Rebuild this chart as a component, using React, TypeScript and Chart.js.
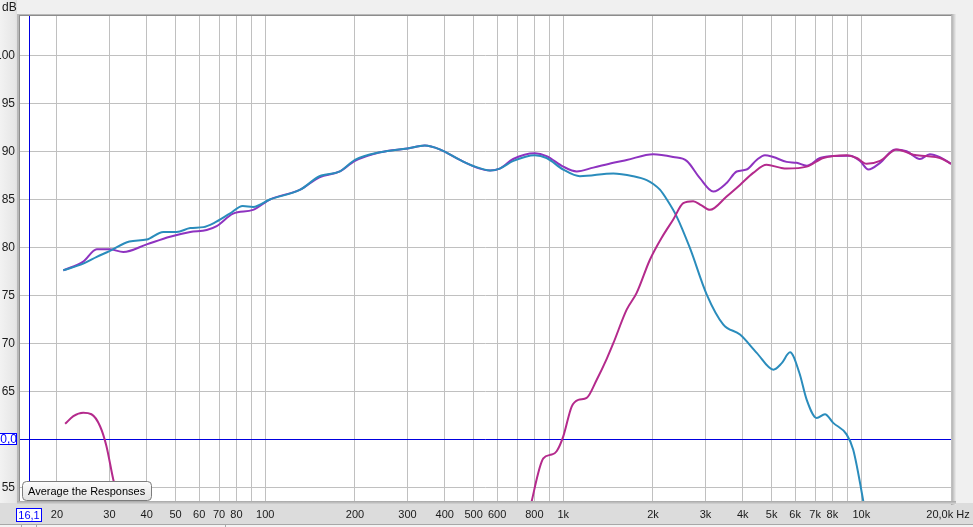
import React, { useEffect, useRef } from "react";
import { Chart, registerables } from "chart.js";

Chart.register(...registerables);

// ---- data ----
const purpleFreq = [21, 24.5, 27.2, 30, 33.4, 40, 47.9, 56, 63.6, 68.7, 78, 91, 104, 131, 152, 178, 200, 243, 300, 343, 385, 450, 525, 568, 612, 679, 803, 879, 1000, 1109, 1261, 1472, 1632, 2005, 2339, 2594, 2874, 3186, 3533, 3818, 4121, 4454, 4748, 5066, 5617, 6069, 6560, 7267, 8050, 9164, 9901, 10562, 11560, 12978, 14194, 15724, 16983, 18357, 20000];
const purpleDb = [77.6, 78.5, 79.8, 79.8, 79.5, 80.3, 81.1, 81.6, 81.8, 82.2, 83.5, 83.9, 85.0, 86.0, 87.3, 87.9, 89.0, 89.9, 90.3, 90.6, 90.2, 89.1, 88.2, 88.0, 88.2, 89.2, 89.8, 89.5, 88.4, 87.9, 88.3, 88.8, 89.1, 89.7, 89.4, 89.0, 87.2, 85.8, 86.7, 87.9, 88.1, 89.1, 89.6, 89.4, 88.9, 88.8, 88.5, 89.3, 89.5, 89.55, 89.0, 88.1, 88.8, 90.2, 90.0, 89.2, 89.7, 89.4, 88.7];

const blueFreq = [21, 24.5, 27.2, 30, 35, 40, 45.5, 50.4, 56, 62, 67, 76, 84, 91, 104, 131, 152, 178, 200, 243, 300, 343, 385, 450, 506, 568, 612, 680, 803, 879, 1000, 1137, 1472, 1718, 1905, 2005, 2110, 2223, 2402, 2662, 3027, 3444, 3918, 4458, 5072, 5400, 5767, 6199, 6560, 7085, 7553, 8050, 8925, 9396, 10160, 10600];
const blueDb = [77.6, 78.3, 79.0, 79.6, 80.6, 80.8, 81.6, 81.6, 82.0, 82.1, 82.5, 83.5, 84.3, 84.2, 85.0, 86.0, 87.4, 87.9, 89.1, 89.9, 90.3, 90.6, 90.2, 89.1, 88.4, 88.0, 88.2, 89.0, 89.6, 89.3, 88.1, 87.4, 87.7, 87.4, 87.0, 86.6, 86.0, 85.0, 83.2, 79.9, 75.1, 71.95, 70.9, 69.0, 67.25, 67.9, 69.05, 66.9, 64.1, 62.2, 62.6, 61.7, 60.5, 58.9, 53.5, 50];

const magentaLowFreq = [21.3, 22.7, 24.5, 26.1, 27.9, 29.3, 30.9, 31.8, 33];
const magentaLowDb = [61.6, 62.4, 62.75, 62.6, 61.35, 59.3, 55.8, 54.3, 52];
const magentaHighFreq = [760, 783, 857, 914, 950, 1000, 1067, 1123, 1198, 1295, 1400, 1472, 1632, 1763, 1953, 2139, 2339, 2527, 2728, 2900, 3105, 3533, 3916, 4339, 4811, 5333, 5617, 6560, 7453, 8925, 9654, 10425, 11560, 13150, 14936, 16556, 18357, 20000];
const magentaHighDb = [51.5, 53.5, 58.0, 58.4, 58.75, 60.3, 63.4, 64.1, 64.3, 66.2, 68.4, 70.0, 73.5, 75.25, 78.7, 81.0, 82.9, 84.6, 84.8, 84.4, 83.9, 85.3, 86.5, 87.75, 88.6, 88.3, 88.2, 88.4, 89.3, 89.6, 89.3, 88.7, 89.0, 90.2, 89.65, 89.5, 89.3, 88.7];

const xGridValues = [20, 30, 40, 50, 60, 70, 80, 90, 100, 200, 300, 400, 500, 600, 700, 800, 900, 1000, 2000, 3000, 4000, 5000, 6000, 7000, 8000, 9000, 10000, 20000];
const xLabelValues = [20, 30, 40, 50, 60, 70, 80, 100, 200, 300, 400, 500, 600, 800, 1000, 2000, 3000, 4000, 5000, 6000, 7000, 8000, 10000, 20000];
const xLabelTexts = ["20", "30", "40", "50", "60", "70", "80", "100", "200", "300", "400", "500", "600", "800", "1k", "2k", "3k", "4k", "5k", "6k", "7k", "8k", "10k", "20,0k Hz"];
const yTickValues = [55, 60, 65, 70, 75, 80, 85, 90, 95, 100];
const yTickLabels = ["55", "60", "65", "70", "75", "80", "85", "90", "95", "100"];

const cursorFreq = 16.1;
const cursorDb = 60;
const cursorFreqLabel = "16,1";
const cursorDbLabel = "60,0";
const buttonText = "Average the Responses";

const X_MIN = 15.03;
const X_MAX = 20000;
const Y_MIN = 53.56;
const Y_MAX = 104.1;

const FONT_Y = '12px "Liberation Sans", Arial, sans-serif';
const FONT_SM = '11px "Liberation Sans", Arial, sans-serif';

function pts(f: number[], d: number[]) {
  return f.map((x, i) => ({ x, y: d[i] }));
}

const decorPlugin = {
  id: "decor",
  beforeDraw(chart: any) {
    const { ctx, width, height, chartArea: a } = chart;
    ctx.save();
    ctx.fillStyle = "#f0f0f0";
    ctx.fillRect(0, 0, width, height);
    const lg = ctx.createLinearGradient(0, 0, a.left, 0);
    lg.addColorStop(0, "#f2f2f2");
    lg.addColorStop(0.75, "#e6e6e6");
    lg.addColorStop(1, "#d4d4d4");
    ctx.fillStyle = lg;
    ctx.fillRect(0, 0, a.left - 3, height);
    ctx.fillStyle = "#dcdcdc";
    ctx.fillRect(0, a.bottom + 2, width, 22);
    ctx.fillStyle = "#f4f4f4";
    ctx.fillRect(0, a.bottom + 24, width, height - a.bottom - 24);
    ctx.fillStyle = "#a8a8a8";
    ctx.fillRect(0, a.bottom + 23, width, 1);
    ctx.fillRect(21, a.bottom + 23, 1, 4);
    ctx.fillRect(36, a.bottom + 23, 1, 4);
    ctx.fillRect(225, a.bottom + 23, 1, 4);
    const rg = ctx.createLinearGradient(a.right, 0, a.right + 5, 0);
    rg.addColorStop(0, "#a6a6a6");
    rg.addColorStop(1, "#ececec");
    ctx.fillStyle = rg;
    ctx.fillRect(a.right, a.top - 2, 5, a.bottom - a.top + 6);
    const bg = ctx.createLinearGradient(0, a.bottom, 0, a.bottom + 3);
    bg.addColorStop(0, "#a6a6a6");
    bg.addColorStop(1, "#d4d4d4");
    ctx.fillStyle = bg;
    ctx.fillRect(a.left - 3, a.bottom, a.right - a.left + 8, 3);
    ctx.fillStyle = "#b8b8b8";
    ctx.fillRect(a.left - 3, a.top - 2, 3, a.bottom - a.top + 2);
    ctx.fillRect(a.left - 3, a.top - 2, a.right - a.left + 3, 2);
    ctx.fillStyle = "#8c8c8c";
    ctx.fillRect(a.left - 1, a.top - 1, 1, a.bottom - a.top + 1);
    ctx.fillRect(a.left - 1, a.top - 1, a.right - a.left + 1, 1);
    ctx.fillStyle = "#ffffff";
    ctx.fillRect(a.left, a.top, a.right - a.left, a.bottom - a.top);
    ctx.restore();
  },
  beforeDatasetsDraw(chart: any) {
    const { ctx, chartArea: a, scales } = chart;
    const cx = Math.round(scales.x.getPixelForValue(cursorFreq)) + 0.5;
    const cy = Math.round(scales.y.getPixelForValue(cursorDb)) + 0.5;
    ctx.save();
    ctx.strokeStyle = "#0000e0";
    ctx.lineWidth = 1;
    ctx.beginPath();
    ctx.moveTo(cx, a.top);
    ctx.lineTo(cx, a.bottom);
    ctx.moveTo(a.left, cy);
    ctx.lineTo(a.right, cy);
    ctx.stroke();
    ctx.restore();
  },
  afterDraw(chart: any) {
    const { ctx, chartArea: a, scales } = chart;
    ctx.save();
    ctx.font = FONT_Y;
    ctx.fillStyle = "#1a1a1a";
    ctx.textAlign = "right";
    ctx.textBaseline = "middle";
    yTickValues.forEach((v, i) => {
      const y = scales.y.getPixelForValue(v);
      ctx.fillText(yTickLabels[i], a.left - 5, y + 0.5);
    });
    ctx.textAlign = "left";
    ctx.fillText("dB", 2, 8);
    ctx.font = FONT_SM;
    ctx.textAlign = "center";
    xLabelValues.forEach((v, i) => {
      let x = scales.x.getPixelForValue(v);
      if (i === xLabelValues.length - 1) x -= 3;
      ctx.fillText(xLabelTexts[i], x, a.bottom + 14);
    });
    const cx = Math.round(scales.x.getPixelForValue(cursorFreq));
    const cy = Math.round(scales.y.getPixelForValue(cursorDb));
    ctx.fillStyle = "#ffffff";
    ctx.fillRect(cx - 13, a.bottom + 7, 26, 14);
    ctx.strokeStyle = "#0000ff";
    ctx.lineWidth = 1;
    ctx.strokeRect(cx - 12.5, a.bottom + 7.5, 25, 13);
    ctx.fillStyle = "#0000ff";
    ctx.fillText(cursorFreqLabel, cx, a.bottom + 14.5);
    ctx.fillStyle = "#ffffff";
    ctx.fillRect(-2, cy - 6, a.left - 2, 12);
    ctx.strokeRect(-1.5, cy - 5.5, a.left - 2, 11);
    ctx.fillStyle = "#0000ff";
    ctx.textAlign = "right";
    ctx.font = FONT_Y;
    ctx.fillText(cursorDbLabel, a.left - 3, cy + 0.5);
    const bx = 22.5, by = 481.5, bw = 129, bh = 19, r = 4;
    const g = ctx.createLinearGradient(0, by, 0, by + bh);
    g.addColorStop(0, "#fdfdfd");
    g.addColorStop(1, "#e2e2e2");
    ctx.beginPath();
    ctx.moveTo(bx + r, by);
    ctx.lineTo(bx + bw - r, by);
    ctx.arcTo(bx + bw, by, bx + bw, by + r, r);
    ctx.lineTo(bx + bw, by + bh - r);
    ctx.arcTo(bx + bw, by + bh, bx + bw - r, by + bh, r);
    ctx.lineTo(bx + r, by + bh);
    ctx.arcTo(bx, by + bh, bx, by + bh - r, r);
    ctx.lineTo(bx, by + r);
    ctx.arcTo(bx, by, bx + r, by, r);
    ctx.closePath();
    ctx.fillStyle = g;
    ctx.fill();
    ctx.strokeStyle = "#7c7c7c";
    ctx.stroke();
    ctx.fillStyle = "#000000";
    ctx.textAlign = "left";
    ctx.textBaseline = "middle";
    ctx.font = FONT_SM;
    ctx.fillText(buttonText, 28, by + bh / 2 + 0.5);
    ctx.restore();
  },
};

export default function App() {
  const ref = useRef<HTMLCanvasElement | null>(null);
  useEffect(() => {
    if (!ref.current) return;
    const magentaData = [
      ...pts(magentaLowFreq, magentaLowDb),
      { x: 100, y: null as any },
      ...pts(magentaHighFreq, magentaHighDb),
    ];
    const common = {
      borderWidth: 2,
      pointRadius: 0,
      fill: false,
      cubicInterpolationMode: "monotone" as const,
      spanGaps: false,
    };
    const chart = new Chart(ref.current, {
      type: "line",
      data: {
        datasets: [
          { ...common, label: "Tweeter", data: magentaData, borderColor: "#b42a8c" },
          { ...common, label: "Woofer", data: pts(blueFreq, blueDb), borderColor: "#2a8cbc" },
          { ...common, label: "Sum", data: pts(purpleFreq, purpleDb), borderColor: "#8e33c0" },
        ],
      },
      options: {
        animation: false,
        responsive: false,
        devicePixelRatio: 1,
        parsing: true,
        layout: { padding: { left: 20, top: 16, right: 22, bottom: 26 } },
        plugins: { legend: { display: false }, tooltip: { enabled: false } },
        scales: {
          x: {
            type: "logarithmic",
            min: X_MIN,
            max: X_MAX,
            ticks: { display: false },
            grid: { color: "#c0c0c0", lineWidth: 1, drawTicks: false },
            border: { display: false },
            afterBuildTicks: (s: any) => {
              s.ticks = xGridValues.map((v) => ({ value: v }));
            },
            afterFit: (s: any) => {
              s.height = 0;
            },
          },
          y: {
            type: "linear",
            min: Y_MIN,
            max: Y_MAX,
            ticks: { display: false },
            grid: { color: "#c0c0c0", lineWidth: 1, drawTicks: false },
            border: { display: false },
            afterBuildTicks: (s: any) => {
              s.ticks = yTickValues.map((v) => ({ value: v }));
            },
            afterFit: (s: any) => {
              s.width = 0;
            },
          },
        },
      },
      plugins: [decorPlugin],
    });
    return () => chart.destroy();
  }, []);
  return (
    <div style={{ position: "fixed", left: 0, top: 0, width: 973, height: 527 }}>
      <canvas ref={ref} width={973} height={527} style={{ display: "block" }} />
    </div>
  );
}
